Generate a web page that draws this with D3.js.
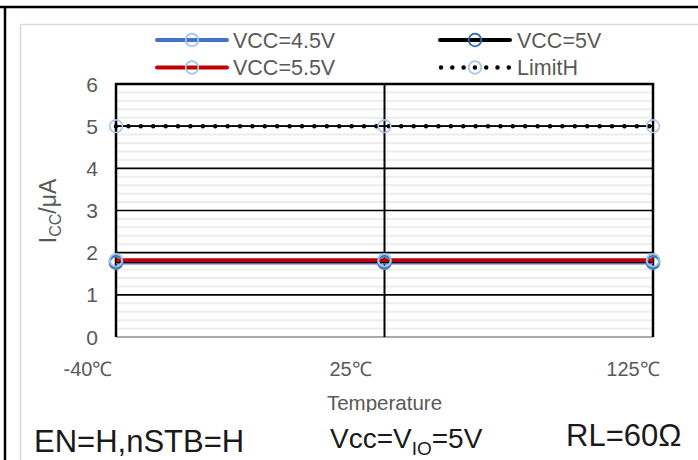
<!DOCTYPE html>
<html><head><meta charset="utf-8">
<script src="https://cdn.jsdelivr.net/npm/d3@7/dist/d3.min.js"></script>
<style>
html,body{margin:0;padding:0;background:#fff;}
svg{display:block;}
text{font-family:"Liberation Sans",Arial,sans-serif;}
</style></head>
<body>
<svg id="chart" width="698" height="460"></svg>
<script>
// ---- data ----
const categories = ["-40℃", "25℃", "125℃"];
const vcc45 = [1.76, 1.76, 1.76];
const vcc50 = [1.79, 1.79, 1.79];
const vcc55 = [1.82, 1.82, 1.82];
const limitH = [5, 5, 5];
const yTicks = [0, 1, 2, 3, 4, 5, 6];
const seriesNames = ["VCC=4.5V", "VCC=5V", "VCC=5.5V", "LimitH"];
const notes = ["EN=H,nSTB=H", "Vcc=V", "RL=60Ω"];

// label placement offsets (style only)
const xLabelShift = [-28, -34, -20];

const svg = d3.select("#chart");
const W = 698, H = 460;
const plot = {left: 116, right: 653, top: 84, bottom: 337};

const x = d3.scalePoint().domain(categories).range([plot.left, plot.right]);
const y = d3.scaleLinear().domain([0, 6]).range([plot.bottom, plot.top]);

// outer frame (table-like)
svg.append("line").attr("x1", 0).attr("x2", W).attr("y1", 7).attr("y2", 7)
  .attr("stroke", "#000").attr("stroke-width", 2.5);
svg.append("line").attr("x1", 5).attr("x2", 5).attr("y1", 6).attr("y2", H)
  .attr("stroke", "#000").attr("stroke-width", 2.5);

// chart area border
svg.append("path").attr("d", `M20.5,${H} V24.5 H${W}`)
  .attr("fill", "none").attr("stroke", "#D9D9D9").attr("stroke-width", 1.5);

const defs = svg.append("defs");
defs.append("clipPath").attr("id", "chartclip").append("rect")
  .attr("x", 21).attr("y", 25).attr("width", W - 21).attr("height", 387);

const g = svg.append("g").attr("clip-path", "url(#chartclip)");

// minor gridlines
const minor = d3.range(0.2, 6, 0.2).filter(v => Math.abs(v - Math.round(v)) > 0.01);
g.append("g").selectAll("line").data(minor).join("line")
  .attr("x1", plot.left).attr("x2", plot.right)
  .attr("y1", d => y(d)).attr("y2", d => y(d))
  .attr("stroke", "#EDEDED").attr("stroke-width", 2);

// major gridlines
g.append("g").selectAll("line").data(yTicks.filter(v => v > 0 && v < 6)).join("line")
  .attr("x1", plot.left).attr("x2", plot.right)
  .attr("y1", d => y(d)).attr("y2", d => y(d))
  .attr("stroke", "#000").attr("stroke-width", 1.6);

// bottom axis line
g.append("line").attr("x1", plot.left).attr("x2", plot.right)
  .attr("y1", y(0)).attr("y2", y(0)).attr("stroke", "#8C8C8C").attr("stroke-width", 1.5);

// top border
g.append("line").attr("x1", plot.left - 1.2).attr("x2", plot.right + 1.2)
  .attr("y1", y(6)).attr("y2", y(6)).attr("stroke", "#000").attr("stroke-width", 2.5);

// vertical lines
g.append("g").selectAll("line").data(categories).join("line")
  .attr("x1", d => x(d)).attr("x2", d => x(d))
  .attr("y1", y(6)).attr("y2", y(0))
  .attr("stroke", "#000").attr("stroke-width", (d, i) => i === 1 ? 2 : 2.5);

// y tick labels
g.append("g").selectAll("text").data(yTicks).join("text")
  .attr("x", 98).attr("y", d => y(d)).attr("dy", "0.36em")
  .attr("text-anchor", "end").attr("font-size", 21).attr("fill", "#595959")
  .text(d => d);

// x tick labels
g.append("g").selectAll("text").data(categories).join("text")
  .attr("x", (d, i) => x(d) + xLabelShift[i]).attr("y", 376)
  .attr("text-anchor", "middle").attr("font-size", 20).attr("fill", "#595959")
  .text(d => d);

// axis titles
g.append("text").attr("x", (plot.left + plot.right) / 2).attr("y", 410)
  .attr("text-anchor", "middle").attr("font-size", 20.5).attr("fill", "#595959")
  .text("Temperature");

const yt = g.append("text").attr("transform", "translate(56,211) rotate(-90)")
  .attr("text-anchor", "middle").attr("font-size", 23).attr("fill", "#595959");
yt.append("tspan").text("I");
yt.append("tspan").attr("font-size", 16).attr("dy", 5).text("CC");
yt.append("tspan").attr("dy", -5).text("/μA");

// series
const line = d3.line().x((d, i) => x(categories[i])).y(d => y(d));
const series = [
  {name: seriesNames[0], data: vcc45, color: "#4472C4", width: 3.2, marker: "#5B8FCF"},
  {name: seriesNames[1], data: vcc50, color: "#000000", width: 3.2, marker: "#2E6BAE"},
  {name: seriesNames[2], data: vcc55, color: "#C00000", width: 4, marker: "#9DC3E6"},
];
series.forEach(s => {
  g.append("path").datum(s.data).attr("d", line)
    .attr("fill", "none").attr("stroke", s.color).attr("stroke-width", s.width);
});
// limit line (dotted)
g.append("path").datum(limitH).attr("d", line)
  .attr("fill", "none").attr("stroke", "#000").attr("stroke-width", 1.2);
g.append("path").datum(limitH).attr("d", line)
  .attr("fill", "none").attr("stroke", "#000").attr("stroke-width", 4.5)
  .attr("stroke-linecap", "round").attr("stroke-dasharray", "0 12.4");

// markers
series.forEach(s => {
  g.append("g").selectAll("circle").data(s.data).join("circle")
    .attr("cx", (d, i) => x(categories[i])).attr("cy", d => y(d)).attr("r", 6.3)
    .attr("fill", "none").attr("stroke", s.marker).attr("stroke-width", 2);
});
g.append("g").selectAll("circle").data(limitH).join("circle")
  .attr("cx", (d, i) => x(categories[i])).attr("cy", d => y(d)).attr("r", 6.3)
  .attr("fill", "none").attr("stroke", "#A9C4E6").attr("stroke-width", 1.6);

// legend
const legend = [
  {name: seriesNames[0], color: "#4472C4", marker: "#9DC3E6", lx: 157, ly: 40, type: "line"},
  {name: seriesNames[1], color: "#000", marker: "#2E6BAE", lx: 440, ly: 40, type: "line"},
  {name: seriesNames[2], color: "#C00000", marker: "#9DC3E6", lx: 157, ly: 67.5, type: "line"},
  {name: seriesNames[3], color: "#000", marker: "#A9C4E6", lx: 440, ly: 67.5, type: "dot"},
];
legend.forEach(l => {
  const lg = g.append("g").attr("transform", `translate(${l.lx},${l.ly})`);
  if (l.type === "line") {
    lg.append("line").attr("x1", 0).attr("x2", 70).attr("stroke", l.color)
      .attr("stroke-width", 4).attr("stroke-linecap", "round");
  } else {
    lg.append("line").attr("x1", 1).attr("x2", 70).attr("stroke", l.color)
      .attr("stroke-width", 4.5).attr("stroke-linecap", "round").attr("stroke-dasharray", "0 11.3");
  }
  lg.append("circle").attr("cx", 35).attr("cy", 0).attr("r", 6.3)
    .attr("fill", "none").attr("stroke", l.marker).attr("stroke-width", 1.8);
  lg.append("text").attr("x", l.lx < 300 ? 76 : 77).attr("y", 0).attr("dy", "0.36em")
    .attr("font-size", 21.5).attr("fill", "#595959").text(l.name);
});

// bottom notes
svg.append("text").attr("x", 34).attr("y", 452).attr("font-size", 31).attr("fill", "#1a1a1a").text(notes[0]);
const n2 = svg.append("text").attr("x", 330).attr("y", 448).attr("font-size", 28).attr("fill", "#1a1a1a");
n2.append("tspan").text(notes[1]);
n2.append("tspan").attr("font-size", 19).attr("dy", 7).text("IO");
n2.append("tspan").attr("dy", -7).text("=5V");
svg.append("text").attr("x", 566).attr("y", 446).attr("font-size", 31).attr("fill", "#1a1a1a").text(notes[2]);
</script>
</body></html>
